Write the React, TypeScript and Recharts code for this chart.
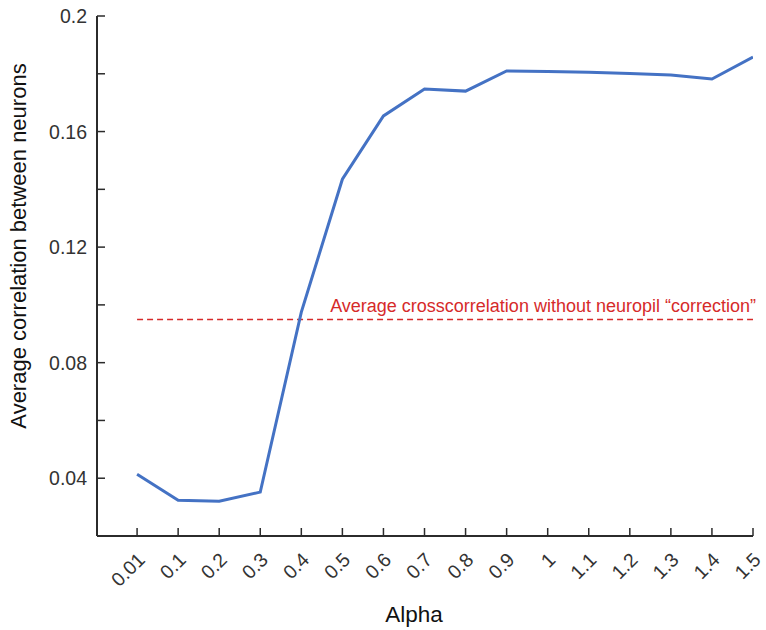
import React from "react";
import { LineChart, Line, XAxis, YAxis, ReferenceLine } from "recharts";

const alphaLabels = ["0.01", "0.1", "0.2", "0.3", "0.4", "0.5", "0.6", "0.7", "0.8", "0.9", "1", "1.1", "1.2", "1.3", "1.4", "1.5"];
const avgCorrelation = [0.0414, 0.0324, 0.0320, 0.0352, 0.0975, 0.1435, 0.1654, 0.1747, 0.1740, 0.1810, 0.1808, 0.1805, 0.1801, 0.1796, 0.1782, 0.1858];
const baselineValue = 0.0949;
const baselineLabel = "Average crosscorrelation without neuropil \u201ccorrection\u201d";
const yTicks = [0.04, 0.06, 0.08, 0.1, 0.12, 0.14, 0.16, 0.18, 0.2];
const yLabeled = [0.04, 0.08, 0.12, 0.16, 0.2];

const data = alphaLabels.map((a, i) => ({ i, alpha: a, corr: avgCorrelation[i] }));

const FONT = "'Liberation Sans', Arial, sans-serif";
const AXIS = "#2b2b2b";
const TEXT = "#333333";

const XTick = (props: any) => {
  const { x, y, payload } = props;
  return (
    <g>
      <line x1={x} y1={y} x2={x} y2={y - 8} stroke={AXIS} strokeWidth={1.5} />
      <text
        x={0}
        y={0}
        transform={`translate(${x + 9},${y + 25}) rotate(-45)`}
        textAnchor="end"
        fontSize={19.5}
        fontFamily={FONT}
        fill={TEXT}
      >
        {alphaLabels[payload.value]}
      </text>
    </g>
  );
};

const YTick = (props: any) => {
  const { x, y, payload } = props;
  const v = payload.value;
  const show = yLabeled.some((t) => Math.abs(t - v) < 1e-9);
  return (
    <g>
      <line x1={x} y1={y} x2={x + 8} y2={y} stroke={AXIS} strokeWidth={1.5} />
      {show && (
        <text x={x - 10} y={y + 7} textAnchor="end" fontSize={19.5} fontFamily={FONT} fill={TEXT}>
          {String(Number(v.toFixed(2)))}
        </text>
      )}
    </g>
  );
};

export default function App() {
  return (
    <div style={{ position: "absolute", left: 0, top: 0, background: "#fff" }}>
      <LineChart width={766} height={630} data={data} margin={{ top: 16, right: 13, left: 0, bottom: 0 }}>
        <XAxis
          dataKey="i"
          type="number"
          domain={[-0.976, 15]}
          ticks={alphaLabels.map((_, i) => i)}
          allowDataOverflow
          height={94}
          stroke={AXIS}
          strokeWidth={2}
          tickLine={false}
          tickSize={0}
          tickMargin={0}
          tick={<XTick />}
          interval={0}
        />
        <YAxis
          type="number"
          domain={[0.02, 0.2]}
          ticks={yTicks}
          allowDataOverflow
          width={97}
          stroke={AXIS}
          strokeWidth={2}
          tickLine={false}
          tickSize={0}
          tickMargin={0}
          tick={<YTick />}
          interval={0}
        />
        <ReferenceLine
          segment={[{ x: 0, y: baselineValue }, { x: 15, y: baselineValue }]}
          stroke="#d62a2a"
          strokeWidth={1.5}
          strokeDasharray="6 4"
          ifOverflow="visible"
          label={(p: any) => {
            const vb = p.viewBox || {};
            const x2 = (vb.x || 0) + (vb.width || 0);
            return (
              <text x={x2 + 3} y={(vb.y || 0) - 8} textAnchor="end" fontSize={18} fontFamily={FONT} fill="#d62a2a">
                {baselineLabel}
              </text>
            );
          }}
        />
        <Line
          type="linear"
          dataKey="corr"
          stroke="#4472c4"
          strokeWidth={3}
          dot={false}
          isAnimationActive={false}
        />
        <text
          x={20}
          y={246}
          transform="rotate(-90, 20, 246)"
          textAnchor="middle"
          fontSize={22}
          fontFamily={FONT}
          fill="#111"
          dominantBaseline="middle"
        >
          Average correlation between neurons
        </text>
        <text x={414} y={622} textAnchor="middle" fontSize={22.5} fontFamily={FONT} fill="#111">
          Alpha
        </text>
      </LineChart>
    </div>
  );
}
